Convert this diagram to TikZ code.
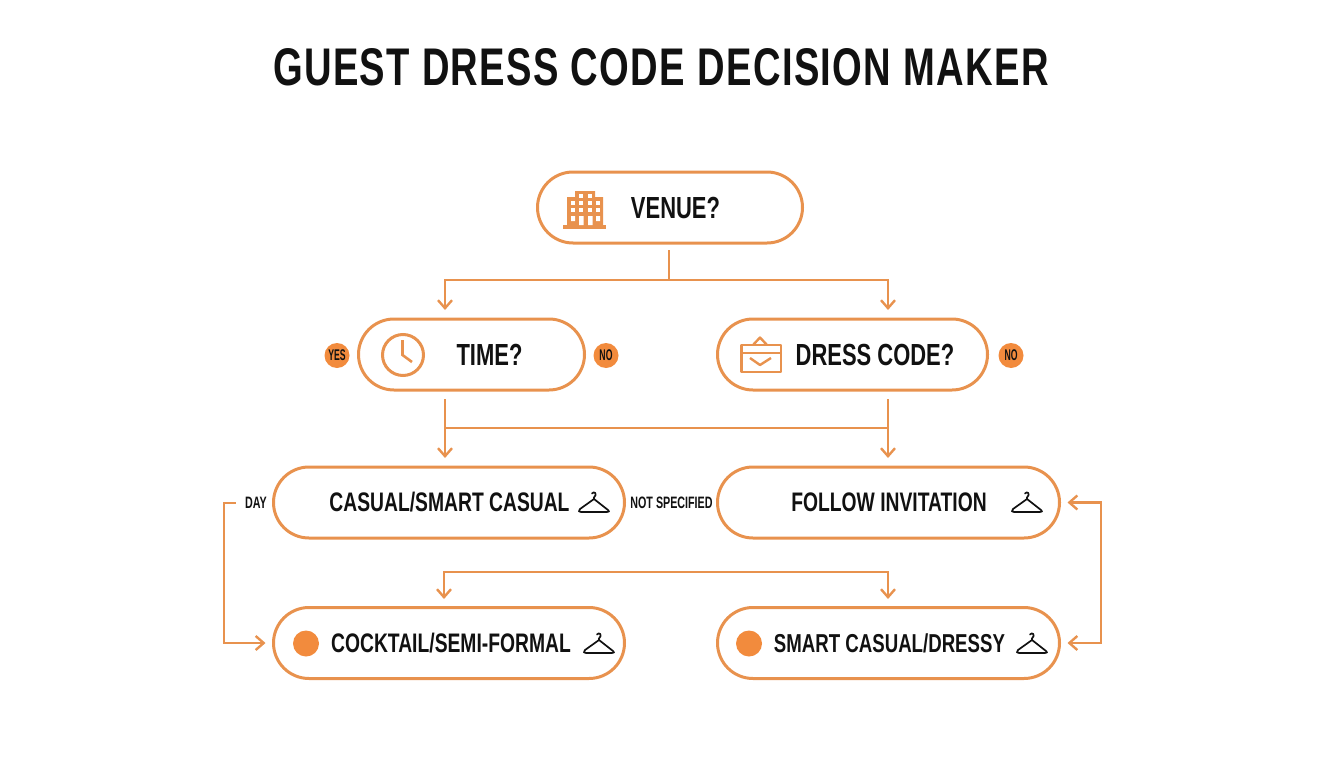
\documentclass[tikz,border=0pt]{standalone}
\usepackage{fontspec}
\setmainfont[FakeStretch=0.72]{Liberation Sans}
\newfontfamily\badgefont[FakeStretch=0.56]{Liberation Sans}
\newfontfamily\tagfont[FakeStretch=0.65]{Liberation Sans}
\usetikzlibrary{arrows.meta,shapes.misc}
\definecolor{linecol}{HTML}{E8924E}
\definecolor{dotcol}{HTML}{F28B3D}
\definecolor{inkcol}{HTML}{111111}
\tikzset{
  >={Straight Barb[length=8pt,width=14pt,line width=2.4pt]},
  pill/.style={draw=linecol,line width=3pt,rounded rectangle,minimum height=71pt,inner sep=0pt,outer sep=0pt},
  flow/.style={draw=linecol,line width=2.6pt},
  word/.style={inner sep=0pt,text=inkcol,font=\bfseries\fontsize{26.8}{27}\selectfont},
  askword/.style={inner sep=0pt,text=inkcol,font=\bfseries\fontsize{30.5}{31}\selectfont},
  tag/.style={inner sep=0pt,text=inkcol,font=\tagfont\bfseries\fontsize{16.5}{17}\selectfont},
  badge/.style={circle,fill=dotcol,minimum size=25pt,inner sep=0pt,text=inkcol,font=\badgefont\bfseries\fontsize{15.5}{16}\selectfont},
  spot/.style={circle,fill=dotcol,minimum size=26pt,inner sep=0pt},
  hanger/.pic={
    \draw[inkcol,line width=1.7pt,line join=round,line cap=round]
      (-2,-8.5) .. controls (0,-11.5) and (4,-8) .. (0,-4.5) -- (0,-3) -- (-14,7)
      .. controls (-16,9) and (-15,10) .. (-13,10) -- (13,10)
      .. controls (15,10) and (16,9) .. (14,8) -- (0,-3);
  }
}
\begin{document}
\begin{tikzpicture}[x=1pt,y=-1pt]
  \useasboundingbox (0,0) rectangle (1344,768);
  \node[inner sep=0pt,text=inkcol,font=\bfseries\fontsize{53}{53}\selectfont\addfontfeature{LetterSpace=2.6}] (title) at (661,67) {GUEST DRESS CODE DECISION MAKER};

  % boxes
  \node[pill,minimum width=265pt] (venue) at (670,207.5) {};
  \node[pill,minimum width=226pt] (time) at (471.5,354.5) {};
  \node[pill,minimum width=270pt] (dress) at (852.5,354.5) {};
  \node[pill,minimum width=351pt] (casual) at (449,502.5) {};
  \node[pill,minimum width=342pt] (follow) at (888.5,502.5) {};
  \node[pill,minimum width=351pt] (cocktail) at (449,643) {};
  \node[pill,minimum width=342pt] (smart) at (888.5,643) {};

  % box texts
  \node[askword] (venuetxt) at (675.5,208) {VENUE?};
  \node[askword] (timetxt) at (489.5,355) {TIME?};
  \node[askword] (dresstxt) at (875,355) {DRESS CODE?};
  \node[word] (casualtxt) at (449.5,502) {CASUAL/SMART CASUAL};
  \node[word] (followtxt) at (889,502) {FOLLOW INVITATION};
  \node[word] (cocktailtxt) at (451,643) {COCKTAIL/SEMI-FORMAL};
  \node[word,font=\bfseries\fontsize{25.9}{26}\selectfont] (smarttxt) at (889.5,643) {SMART CASUAL/DRESSY};

  % side marks
  \node[badge] (yesmark) at (337,355.5) {YES};
  \node[badge] (nomark) at (606,355.5) {NO};
  \node[badge] (nomarkb) at (1011,355.5) {NO};
  \node[tag] (day) at (256,503) {DAY};
  \node[tag] (notspec) at (671.5,503) {NOT SPECIFIED};
  \node[spot] (cocktaildot) at (306,643.5) {};
  \node[spot] (smartdot) at (749,643.5) {};

  % connectors
  \coordinate (venuebus) at (669,280);
  \coordinate (timein) at (445,318);
  \coordinate (dressin) at (888,318);
  \coordinate (timeout) at (445,391);
  \coordinate (dressout) at (888,391);
  \coordinate (casualin) at (445,466);
  \coordinate (followin) at (888,466);
  \coordinate (timebus) at (445,428);
  \coordinate (dressbus) at (888,428);
  \coordinate (cocktailin) at (444,607);
  \coordinate (smartin) at (888,607);
  \coordinate (lowleft) at (444,572);
  \coordinate (lowright) at (888,572);
  \coordinate (leftrail) at (224,572);
  \coordinate (rightrail) at (1101,572);
  \draw[flow,shorten <=7pt] (venue.south -| venuebus) -- (venuebus);
  \draw[flow,->,shorten >=8pt] (venuebus) -| (timein);
  \draw[flow,->,shorten >=8pt] (venuebus) -| (dressin);
  \draw[flow,->,shorten <=8pt,shorten >=8pt] (timeout) -- (casualin);
  \draw[flow,->,shorten <=8pt,shorten >=8pt] (dressout) -- (followin);
  \draw[flow] (timebus) -- (dressbus);
  \draw[flow,<->,shorten <=8pt,shorten >=8pt] (cocktailin) -- (lowleft) -- (lowright) -- (smartin);
  \draw[flow,->,shorten <=9pt,shorten >=8pt] (day.west) -| (leftrail) |- (cocktail.west);
  \draw[flow,<->,shorten <=8pt,shorten >=8pt] (follow.east) -| (rightrail) |- (smart.east);

  % building
  \fill[linecol] (575,191) rectangle (595,198) (567,197) rectangle (603,226);
  \fill[linecol] (563,224.5) rectangle (606,228.5);
  \foreach \a in {571,579,588,596}
    \foreach \b in {201,208}
      \fill[white] (\a,\b) rectangle ++(4,4);
  \foreach \a in {579,588}
    \fill[white] (\a,194) rectangle ++(4,4);
  \fill[white] (571,216) rectangle ++(4,5) (596,216) rectangle ++(4,5);
  \fill[white] (579,216) rectangle ++(4.5,9) (588,216) rectangle ++(4.5,9);

  % clock
  \draw[linecol,line width=3pt] (403,355) circle (20.5);
  \draw[linecol,line width=2.6pt] (402.5,340) -- (402.5,355) -- (412,362);

  % bag
  \draw[linecol,line width=2.8pt,line join=round] (741.5,345) rectangle (781,372);
  \draw[linecol,line width=2.4pt] (741.5,353) -- (781,353);
  \draw[linecol,line width=2.4pt,line join=round] (753,345) -- (760,337.5) -- (767,345);
  \draw[linecol,line width=2.4pt,line join=round] (750,358) -- (760,365) -- (771,358);

  % hangers
  \path (594,502) pic {hanger};
  \path (1027,502) pic {hanger};
  \path (599,643) pic {hanger};
  \path (1032,643) pic {hanger};
\end{tikzpicture}
\end{document}
